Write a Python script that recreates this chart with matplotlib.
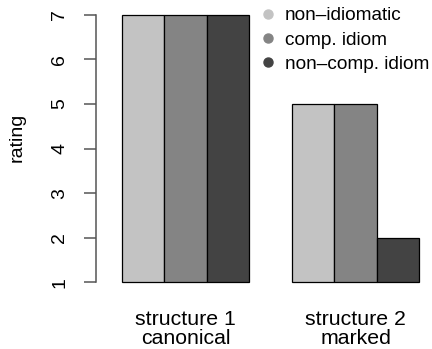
import matplotlib
matplotlib.use("Agg")
import matplotlib.pyplot as plt
from matplotlib.lines import Line2D
import numpy as np

plt.rcParams["font.family"] = ["Liberation Sans", "DejaVu Sans"]

# data
groups = ["structure 1\ncanonical", "structure 2\nmarked"]
series = ["non\u2013idiomatic", "comp. idiom", "non\u2013comp. idiom"]
ratings = {
    "non\u2013idiomatic": [7, 5],
    "comp. idiom": [7, 5],
    "non\u2013comp. idiom": [7, 2],
}
colors = ["#c3c3c3", "#848484", "#434343"]
yticks = [1, 2, 3, 4, 5, 6, 7]

W, H = 432, 349
fig = plt.figure(figsize=(W / 100, H / 100), dpi=100)

# plot region in pixels
left_px, right_px, top_px, bot_px = 95.7, 432, 14.7, 282.3
ax = fig.add_axes([left_px / W, 1 - bot_px / H,
                   (right_px - left_px) / W, (bot_px - top_px) / H])

# bar layout: unit width, one-bar gap before each group
n = len(series)
starts = np.array([1 + g * (n + 1) for g in range(len(groups))], dtype=float)
for i, s in enumerate(series):
    vals = np.array(ratings[s], dtype=float)
    ax.bar(starts + i + 0.5, vals - 1, bottom=1, width=1.0,
           color=colors[i], edgecolor="black", linewidth=0.9,
           clip_on=False, zorder=2)

px_per_unit = 42.51
ax.set_xlim(1 - (121.7 - left_px) / px_per_unit,
            1 + (right_px - 121.7) / px_per_unit)
ax.set_ylim(1, 7)

for sp in ["top", "right", "bottom"]:
    ax.spines[sp].set_visible(False)
ax.spines["left"].set_color("#555555")
ax.spines["left"].set_linewidth(1.1)

ax.set_yticks(yticks)
ax.set_yticklabels([str(t) for t in yticks], rotation=90, va="center",
                   fontsize=14)
ax.tick_params(axis="y", direction="out", length=8.6, width=1.1,
               color="#555555", pad=11)

ax.set_xticks(starts + n / 2)
ax.set_xticklabels(groups, fontsize=15.3, linespacing=1.02)
ax.tick_params(axis="x", length=0, pad=20)

fig.text(17.5 / W, 1 - 137.5 / H, "rating", rotation=90,
         ha="center", va="center", fontsize=14)

handles = [Line2D([], [], linestyle="none", marker="o", markersize=6.5,
                  markerfacecolor=c, markeredgecolor=c) for c in colors]
ax.legend(handles, series, loc="upper left",
          bbox_to_anchor=(258 / W, 1 - 7 / H),
          bbox_transform=fig.transFigure, frameon=False, fontsize=13.7,
          handlelength=1.0, handletextpad=0.4, labelspacing=0.37,
          borderpad=0, borderaxespad=0)

fig.savefig("out.png", dpi=100)
